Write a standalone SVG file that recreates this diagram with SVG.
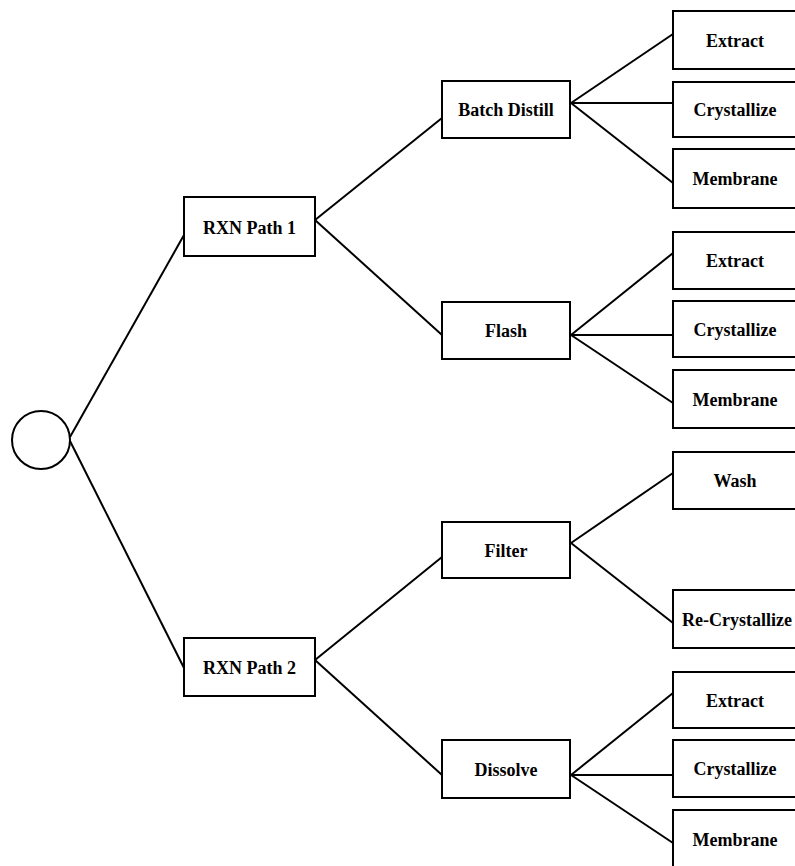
<svg xmlns="http://www.w3.org/2000/svg" width="795" height="866" viewBox="0 0 795 866">
<style>
.b{fill:#fff;stroke:#000;stroke-width:2}
.t{font-family:"Liberation Serif","Times New Roman",serif;font-weight:bold;font-size:18px;fill:#000;text-anchor:middle}
.c line{stroke:#000;stroke-width:2}
</style>
<rect width="795" height="866" fill="#fff"/>
<g class="c" id="connectors">
<line x1="70" y1="437" x2="184" y2="235"/>
<line x1="70" y1="441" x2="184" y2="668"/>
<line x1="315" y1="220" x2="442" y2="118"/>
<line x1="315" y1="220" x2="442" y2="335"/>
<line x1="315" y1="660" x2="442" y2="557"/>
<line x1="315" y1="660" x2="442" y2="775"/>
<line x1="571" y1="103" x2="673" y2="34"/>
<line x1="571" y1="103" x2="673" y2="103"/>
<line x1="571" y1="103" x2="673" y2="183"/>
<line x1="571" y1="335" x2="673" y2="253"/>
<line x1="571" y1="335" x2="673" y2="335"/>
<line x1="571" y1="335" x2="673" y2="403"/>
<line x1="571" y1="543" x2="673" y2="473"/>
<line x1="571" y1="543" x2="673" y2="623"/>
<line x1="571" y1="775" x2="673" y2="693"/>
<line x1="571" y1="775" x2="673" y2="775"/>
<line x1="571" y1="775" x2="673" y2="843"/>
</g>
<g id="root"><circle cx="41" cy="440" r="29" fill="#fff" stroke="#000" stroke-width="2"/></g>
<g id="rxn1"><rect class="b" x="184" y="197" width="131" height="59"/><text class="t" x="249.5" y="234">RXN Path 1</text></g>
<g id="rxn2"><rect class="b" x="184" y="638" width="131" height="58"/><text class="t" x="249.5" y="674">RXN Path 2</text></g>
<g id="batch"><rect class="b" x="442" y="81" width="128" height="57"/><text class="t" x="506" y="116">Batch Distill</text></g>
<g id="flash"><rect class="b" x="442" y="302" width="128" height="57"/><text class="t" x="506" y="337">Flash</text></g>
<g id="filter"><rect class="b" x="442" y="522" width="128" height="56"/><text class="t" x="506" y="557">Filter</text></g>
<g id="dissolve"><rect class="b" x="442" y="740" width="128" height="58"/><text class="t" x="506" y="776">Dissolve</text></g>
<g id="bd-extract"><rect class="b" x="673" y="11" width="124" height="58"/><text class="t" x="735" y="47">Extract</text></g>
<g id="bd-crystallize"><rect class="b" x="673" y="82" width="124" height="55"/><text class="t" x="735" y="116">Crystallize</text></g>
<g id="bd-membrane"><rect class="b" x="673" y="149" width="124" height="59"/><text class="t" x="735" y="185">Membrane</text></g>
<g id="fl-extract"><rect class="b" x="673" y="232" width="124" height="57"/><text class="t" x="735" y="267">Extract</text></g>
<g id="fl-crystallize"><rect class="b" x="673" y="301" width="124" height="56"/><text class="t" x="735" y="336">Crystallize</text></g>
<g id="fl-membrane"><rect class="b" x="673" y="370" width="124" height="58"/><text class="t" x="735" y="406">Membrane</text></g>
<g id="wash"><rect class="b" x="673" y="452" width="124" height="57"/><text class="t" x="735" y="487">Wash</text></g>
<g id="recrystallize"><rect class="b" x="673" y="590" width="124" height="58"/><text class="t" x="737" y="626">Re-Crystallize</text></g>
<g id="di-extract"><rect class="b" x="673" y="672" width="124" height="56"/><text class="t" x="735" y="707">Extract</text></g>
<g id="di-crystallize"><rect class="b" x="673" y="740" width="124" height="57"/><text class="t" x="735" y="775">Crystallize</text></g>
<g id="di-membrane"><rect class="b" x="673" y="810" width="124" height="58"/><text class="t" x="735" y="846">Membrane</text></g>
</svg>
